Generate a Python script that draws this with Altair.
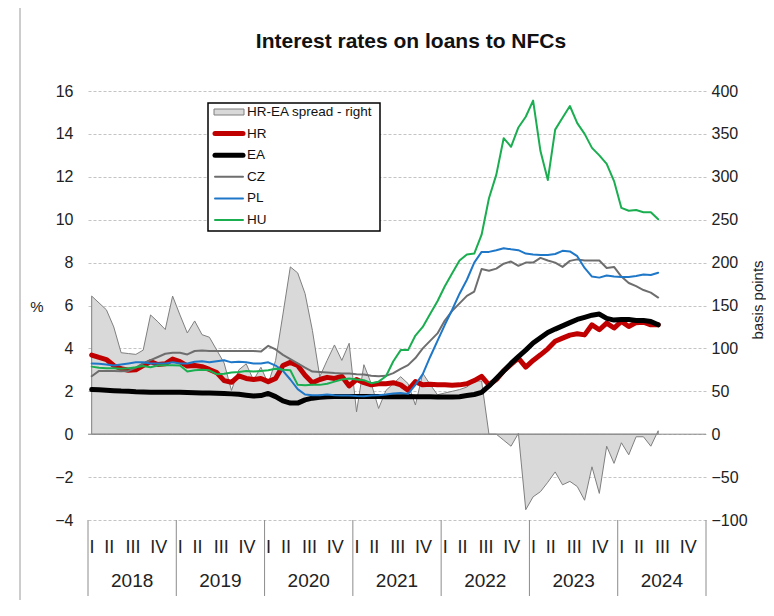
import altair as alt
import pandas as pd

# ---------------- data (monthly, Jan 2018 - Jun 2024) ----------------
HR = [3.69, 3.58, 3.48, 3.20, 3.05, 2.98, 3.00, 3.20, 3.38, 3.25, 3.28, 3.50,
      3.38, 3.18, 3.20, 3.15, 3.02, 2.87, 2.50, 2.42, 2.72, 2.60, 2.55, 2.60,
      2.45, 2.60, 3.20, 3.35, 3.20, 2.75, 2.40, 2.55, 2.65, 2.60, 2.70, 2.25,
      2.55, 2.40, 2.30, 2.35, 2.35, 2.40, 2.30, 2.05, 2.45, 2.30, 2.33, 2.30,
      2.30, 2.28, 2.30, 2.35, 2.50, 2.70, 2.30, 2.55, 2.95, 3.25, 3.55, 3.13,
      3.44, 3.70, 3.98, 4.33, 4.48, 4.62, 4.68, 4.63, 5.10, 4.87, 5.18, 4.95,
      5.26, 5.02, 5.20, 5.22, 5.10, 5.10]
EA = [2.08, 2.07, 2.05, 2.03, 2.01, 2.00, 1.98, 1.97, 1.96, 1.95, 1.95, 1.95,
      1.95, 1.94, 1.93, 1.92, 1.92, 1.91, 1.90, 1.88, 1.86, 1.82, 1.78, 1.80,
      1.90, 1.75, 1.55, 1.45, 1.45, 1.60, 1.68, 1.72, 1.75, 1.76, 1.76, 1.76,
      1.76, 1.76, 1.76, 1.76, 1.75, 1.75, 1.75, 1.76, 1.75, 1.75, 1.75, 1.74,
      1.74, 1.74, 1.75, 1.80, 1.85, 1.95, 2.25, 2.60, 2.95, 3.30, 3.62, 3.92,
      4.25, 4.50, 4.74, 4.90, 5.05, 5.20, 5.35, 5.45, 5.55, 5.60, 5.40, 5.32,
      5.35, 5.35, 5.30, 5.30, 5.25, 5.10]
CZ = [2.70, 2.95, 2.95, 2.95, 2.94, 2.95, 3.10, 3.30, 3.45, 3.60, 3.75, 3.80,
      3.80, 3.72, 3.88, 3.90, 3.88, 3.88, 3.88, 3.88, 3.88, 3.88, 3.88, 3.85,
      4.12, 3.95, 3.70, 3.50, 3.30, 3.10, 2.92, 2.90, 2.88, 2.85, 2.83, 2.83,
      2.80, 2.78, 2.72, 2.70, 2.72, 2.85, 3.05, 3.22, 3.55, 4.00, 4.35, 4.70,
      5.30, 5.75, 6.10, 6.45, 6.65, 7.70, 7.62, 7.72, 7.95, 8.05, 7.85, 8.00,
      8.00, 8.22, 8.10, 8.00, 7.80, 8.08, 8.15, 8.10, 8.10, 8.10, 7.75, 7.80,
      7.35, 7.05, 6.90, 6.72, 6.60, 6.37]
PL = [3.30, 3.28, 3.25, 3.20, 3.25, 3.30, 3.35, 3.35, 3.30, 3.30, 3.30, 3.35,
      3.30, 3.30, 3.38, 3.40, 3.35, 3.40, 3.45, 3.35, 3.38, 3.35, 3.30, 3.30,
      3.35, 3.20, 2.95, 2.55, 2.10, 1.85, 1.82, 1.82, 1.85, 1.82, 1.80, 1.80,
      1.78, 1.77, 1.80, 1.82, 1.85, 1.90, 1.92, 1.88, 2.30, 2.80, 3.60, 4.35,
      5.10, 5.80, 6.55, 7.20, 8.00, 8.50, 8.50, 8.58, 8.67, 8.62, 8.58, 8.42,
      8.38, 8.35, 8.35, 8.40, 8.55, 8.52, 8.30, 7.75, 7.35, 7.30, 7.40, 7.35,
      7.33, 7.33, 7.38, 7.45, 7.42, 7.53]
HU = [3.15, 3.10, 3.08, 3.07, 3.05, 3.08, 3.12, 3.18, 3.12, 3.20, 3.22, 3.22,
      3.20, 2.92, 2.98, 3.00, 2.98, 2.80, 2.82, 2.88, 2.90, 2.95, 2.92, 2.95,
      2.98, 3.05, 3.00, 2.98, 2.30, 2.28, 2.30, 2.30, 2.35, 2.45, 2.55, 2.60,
      2.55, 2.52, 2.38, 2.45, 2.70, 3.40, 3.92, 3.92, 4.60, 5.00, 5.60, 6.20,
      6.90, 7.50, 8.10, 8.38, 8.42, 9.30, 11.00, 12.10, 13.80, 13.40, 14.30, 14.80,
      15.55, 13.20, 11.85, 14.20, 14.75, 15.30, 14.50, 14.00, 13.35, 13.00, 12.60, 11.80,
      10.55, 10.42, 10.45, 10.35, 10.35, 10.02]
SPREAD = [161, 153, 145, 125, 95, 94, 93, 98, 139, 131, 122, 161,
          139, 118, 132, 116, 113, 98, 83, 51, 75, 82, 63, 78,
          59, 86, 140, 195, 188, 164, 121, 67, 86, 104, 86, 106,
          26, 81, 59, 30, 51, 59, 67, 59, 34, 71, 58, 46,
          48, 50, 52, 55, 62, 62, 0, 0, -7, -14, 1, -88,
          -73, -67, -56, -44, -59, -55, -61, -77, -38, -69, -14, -34,
          -10, -24, -3, -3, -14, 4]

YEARS = ["2018", "2019", "2020", "2021", "2022", "2023", "2024"]
QUARTERS = ["I", "II", "III", "IV"]
LEFT_TICKS = [-4, -2, 0, 2, 4, 6, 8, 10, 12, 14, 16]
RIGHT_TICKS = [-100, -50, 0, 50, 100, 150, 200, 250, 300, 350, 400]

SERIES = ["HR", "EA", "CZ", "PL", "HU"]
COLORS = {"HR": "#c00000", "EA": "#000000", "CZ": "#6e6e6e", "PL": "#1f77c8", "HU": "#1aae50"}
WIDTHS = {"HR": 5, "EA": 5, "CZ": 2, "PL": 2, "HU": 2}
VALUES = {"HR": HR, "EA": EA, "CZ": CZ, "PL": PL, "HU": HU}
SPREAD_LABEL = "HR-EA spread - right"

FONT = "Liberation Sans"
W, H = 618, 429
N_MONTHS = 12 * len(YEARS)

t = [i + 0.5 for i in range(len(HR))]
xs = alt.Scale(domain=[0, N_MONTHS], nice=False)
ys_left = alt.Scale(domain=[-4, 16], nice=False)
ys_right = alt.Scale(domain=[-100, 400], nice=False)

one = pd.DataFrame({"a": [0]})

# ---------------- spread area (right axis) ----------------
spread_df = pd.DataFrame({"t": t, "bp": SPREAD})
area = alt.Chart(spread_df).mark_area(
    fill="#d9d9d9", stroke="#7f7f7f", strokeWidth=1
).encode(
    x=alt.X("t:Q", scale=xs, axis=None),
    y=alt.Y("bp:Q", scale=ys_right,
            axis=alt.Axis(orient="right", values=RIGHT_TICKS, grid=False, domain=False,
                          ticks=False, labelFontSize=16, labelFont=FONT, labelColor="#222",
                          labelPadding=5, title=None)),
)

# zero line
zero = alt.Chart(pd.DataFrame({"z": [0]})).mark_rule(color="#8c8c8c", strokeWidth=1).encode(
    y=alt.Y("z:Q", scale=ys_left, axis=None),
    x=alt.value(0), x2=alt.value(W),
)

# ---------------- lines (left axis) ----------------
line_layers = []
for k, s in enumerate(SERIES):
    df = pd.DataFrame({"t": t, "v": VALUES[s]})
    if k == 0:
        yax = alt.Axis(values=LEFT_TICKS, grid=True, gridDash=[3, 2], gridColor="#c4c4c4",
                       gridWidth=1, domain=False, ticks=False, labelFontSize=16,
                       labelFont=FONT, labelColor="#222", labelPadding=15, title=None)
    else:
        yax = None
    line_layers.append(
        alt.Chart(df).mark_line(color=COLORS[s], strokeWidth=WIDTHS[s],
                                strokeJoin="round", strokeCap="round").encode(
            x=alt.X("t:Q", scale=xs, axis=None),
            y=alt.Y("v:Q", scale=ys_left, axis=yax),
        )
    )

# ---------------- category axis (quarters / years) ----------------
Q_OFF = [0.55, 2.9, 6.1, 9.6]
qdf = pd.DataFrame([{"t": yi * 12 + Q_OFF[qi], "lab": q}
                    for yi in range(len(YEARS)) for qi, q in enumerate(QUARTERS)])
qtext = alt.Chart(qdf).mark_text(fontSize=18, font=FONT, color="#222", baseline="middle").encode(
    x=alt.X("t:Q", scale=xs, axis=None), y=alt.value(H + 28), text="lab:N")
ydf = pd.DataFrame({"t": [yi * 12 + 6 for yi in range(len(YEARS))], "lab": YEARS})
ytext = alt.Chart(ydf).mark_text(fontSize=19, font=FONT, color="#222", baseline="middle").encode(
    x=alt.X("t:Q", scale=xs, axis=None), y=alt.value(H + 61), text="lab:N")
sdf = pd.DataFrame({"t": [yi * 12 for yi in range(len(YEARS) + 1)]})
seps = alt.Chart(sdf).mark_rule(color="#8c8c8c", strokeWidth=1).encode(
    x=alt.X("t:Q", scale=xs, axis=None), y=alt.value(H), y2=alt.value(H + 76))

# ---------------- titles ----------------
title = alt.Chart(one).mark_text(text="Interest rates on loans to NFCs", fontSize=21,
                                 fontWeight="bold", font=FONT, color="#111",
                                 align="center", baseline="middle").encode(
    x=alt.value(323), y=alt.value(-49))
pct = alt.Chart(one).mark_text(text="%", fontSize=15, font=FONT, color="#222",
                               baseline="middle").encode(x=alt.value(-51), y=alt.value(216))
bps = alt.Chart(one).mark_text(text="basis points", fontSize=15, font=FONT, color="#222",
                               angle=270, align="center", baseline="middle").encode(
    x=alt.value(670), y=alt.value(209))
frame = alt.Chart(one).mark_rule(color="#9a9a9a", strokeWidth=1).encode(
    x=alt.value(-68), y=alt.value(-83), y2=alt.value(H + 80))

# ---------------- legend ----------------
LX0, LX1, LY0, LY1 = 120, 292, 12, 140
ROW0, ROWH = 21, 21.6
legbox = alt.Chart(one).mark_rect(fill="white", stroke="black", strokeWidth=1.5).encode(
    x=alt.value(LX0), x2=alt.value(LX1), y=alt.value(LY0), y2=alt.value(LY1))
leg_swatch = alt.Chart(one).mark_rect(fill="#d9d9d9", stroke="#7f7f7f", strokeWidth=1).encode(
    x=alt.value(126), x2=alt.value(156), y=alt.value(ROW0 - 3), y2=alt.value(ROW0 + 3))
leg_lines_df = pd.DataFrame({
    "py": [ROW0 + (k + 1) * ROWH for k in range(len(SERIES))],
    "col": [COLORS[s] for s in SERIES],
    "w": [WIDTHS[s] for s in SERIES],
})
leg_lines = alt.Chart(leg_lines_df).mark_rule(strokeCap="round").encode(
    x=alt.value(127), x2=alt.value(155),
    y=alt.Y("py:Q", scale=None, axis=None),
    color=alt.Color("col:N", scale=None, legend=None),
    strokeWidth=alt.StrokeWidth("w:Q", scale=None, legend=None),
)
leg_text_df = pd.DataFrame({
    "py": [ROW0 + k * ROWH for k in range(len(SERIES) + 1)],
    "lab": [SPREAD_LABEL] + SERIES,
})
leg_text = alt.Chart(leg_text_df).mark_text(fontSize=13.5, font=FONT, color="#111",
                                            align="left", baseline="middle").encode(
    x=alt.value(159), y=alt.Y("py:Q", scale=None, axis=None), text="lab:N")

chart = alt.layer(
    area, zero, *line_layers, seps, qtext, ytext, title, pct, bps, frame,
    legbox, leg_swatch, leg_lines, leg_text
).resolve_scale(y="independent").properties(
    width=W, height=H,
    autosize=alt.AutoSizeParams(type="none"),
    padding={"left": 80, "top": 83, "right": 60, "bottom": 80},
).configure_view(strokeWidth=0)

chart.save("out.html", embed_options={"renderer": "svg", "actions": False})
